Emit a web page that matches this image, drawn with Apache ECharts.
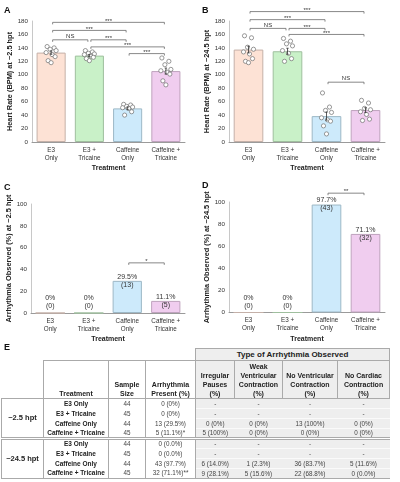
<!DOCTYPE html>
<html>
<head>
<meta charset="utf-8">
<script src="https://cdn.jsdelivr.net/npm/echarts@6/dist/echarts.min.js"></script>
<style>
  body { margin: 0; background: #fff; font-family: Arial, "Liberation Sans", sans-serif; }
  #chart { position: absolute; left: 0; top: 0; width: 400px; height: 482px; }
  #tbl { position: absolute; left: 1px; top: 348px; width: 388px; border-collapse: collapse; table-layout: fixed; color: #333; }
  #tbl td { padding: 0; text-align: center; line-height: 8px; font-size: 6.3px; white-space: nowrap; overflow: hidden; }
  #tbl tr.d { height: 10px; }
  #tbl td.hd { font-weight: bold; font-size: 7px; line-height: 9px; color: #222; vertical-align: bottom; border: 1px solid #aaa; white-space: pre-line; }
  #tbl td.top { font-weight: bold; font-size: 8px; line-height: 11px; color: #222; border: 1px solid #aaa; background: #eee; }
  #tbl td.grp { font-weight: bold; font-size: 7.5px; color: #222; border: 1px solid #aaa; }
  #tbl td.trt { font-weight: bold; font-size: 6.5px; color: #222; border-left: 1px solid #aaa; border-right: 1px solid #aaa; }
  #tbl td.val { border-right: 1px solid #aaa; color: #444; }
  #tbl td.gray { background: #eee; border-bottom: 1px solid #fafafa; color: #444; }
  #tbl tr.sep td { border-top: 3px double #aaa; }
  #tbl tr.last td { border-bottom: 1px solid #aaa; }
</style>
</head>
<body>
<div id="chart"></div>
<table id="tbl"></table>
<script>
// categories and colours
var categories = ['E3\nOnly', 'E3 +\nTricaine', 'Caffeine\nOnly', 'Caffeine +\nTricaine'];
var barColors = ['#fde2d5', '#c9f1c8', '#cdeafb', '#f0cdef'];
var barBorders = ['#c4b0a8', '#9fbf9e', '#9db8c6', '#bfa3be'];

// A: heart rate at ~2.5 hpt
var hrMean25 = [133, 128.5, 50, 105.5];
var hrSem25 = [2.5, 1.5, 2, 4.5];
var hrPoints25 = [
  [142, 140, 138, 136, 133, 130, 127, 121, 118],
  [136, 134, 132, 131, 130, 128, 126, 124, 121],
  [56, 55, 53, 52, 51, 50, 45, 40],
  [125, 120, 115, 108, 106, 104, 101, 91, 85]
];
// B: heart rate at ~24.5 hpt
var hrMean245 = [137.5, 135, 38.5, 47.5];
var hrSem245 = [5, 4.5, 6, 3.5];
var hrPoints245 = [
  [158, 155, 141, 138, 134, 131, 124, 120, 118],
  [154, 150, 146, 143, 136, 132, 124, 120],
  [73, 52, 47, 44, 36, 33, 31, 24, 12],
  [62, 58, 50, 48, 45, 41, 34, 32]
];
// C / D: arrhythmia observed
var arrPct25 = [0, 0, 29.5, 11.1];
var arrN25 = [0, 0, 13, 5];
var arrPct245 = [0, 0, 97.7, 71.1];
var arrN245 = [0, 0, 43, 32];

// significance brackets: [from, to, height, label]
var sigA = [[0, 3, 178, '***'], [0, 2, 166, '***'], [0, 1, 152, 'NS'], [1, 2, 152, '***'], [1, 3, 141.5, '***'], [2, 3, 131.5, '***']];
var sigB = [[0, 3, 194, '***'], [0, 2, 182, '***'], [0, 1, 169, 'NS'], [1, 2, 169, '***'], [1, 3, 160, '***'], [2, 3, 89, 'NS']];
var sigC = [[2, 3, 46, '*']];
var sigD = [[2, 3, 108, '**']];

var hrTicks = { min: 0, max: 180, interval: 20 };
var pctTicks = { min: 0, max: 100, interval: 20 };

// table E
var tableGroups = ['~2.5 hpt', '~24.5 hpt'];
var tableTreatments = ['E3 Only', 'E3 + Tricaine', 'Caffeine Only', 'Caffeine + Tricaine'];
var tableHeaders = ['Treatment', 'Sample\nSize', 'Arrhythmia\nPresent (%)', 'Irregular\nPauses\n(%)', 'Weak\nVentricular\nContraction\n(%)', 'No Ventricular\nContraction\n(%)', 'No Cardiac\nContraction\n(%)'];
var sampleSizes = [[44, 45, 44, 45], [44, 45, 44, 45]];
var arrhythmiaPresent = [['0 (0%)', '0 (0%)', '13 (29.5%)', '5 (11.1%)*'], ['0 (0.0%)', '0 (0.0%)', '43 (97.7%)', '32 (71.1%)**']];
var irregularPauses = [['-', '-', '0 (0%)', '5 (100%)'], ['-', '-', '6 (14.0%)', '9 (28.1%)']];
var weakVentricular = [['-', '-', '0 (0%)', '0 (0%)'], ['-', '-', '1 (2.3%)', '5 (15.6%)']];
var noVentricular = [['-', '-', '13 (100%)', '0 (0%)'], ['-', '-', '36 (83.7%)', '22 (68.8%)']];
var noCardiac = [['-', '-', '0 (0%)', '0 (0%)'], ['-', '-', '5 (11.6%)', '0 (0.0%)']];

// horizontal jitter for the dots, in px
var jitter = [-4, 3, -1, 5, -5, 1, 4, -3, 0, 2];

var FONT = 'Arial, "Liberation Sans", sans-serif';

function barSeries(idx, values) {
  return {
    type: 'bar', xAxisIndex: idx, yAxisIndex: idx, barWidth: '76%',
    data: values.map(function (v, i) {
      return { value: v, itemStyle: { color: barColors[i], borderColor: barBorders[i], borderWidth: 1 } };
    })
  };
}

function pctBarSeries(idx, pct, n) {
  var s = barSeries(idx, pct);
  s.data.forEach(function (d, i) {
    d.label = { show: true, position: 'top', distance: pct[i] > 0 ? -8 : 2 };
  });
  s.label = {
    show: true, fontSize: 7, lineHeight: 8, color: '#333', fontFamily: FONT,
    formatter: function (p) { return pct[p.dataIndex] + '%\n(' + n[p.dataIndex] + ')'; }
  };
  return s;
}

function pointSeries(idx, pts) {
  var data = [];
  pts.forEach(function (list, c) {
    list.forEach(function (v, i) { data.push([c, v, i]); });
  });
  return {
    type: 'custom', xAxisIndex: idx, yAxisIndex: idx, z: 5, data: data,
    renderItem: function (params, api) {
      var p = api.coord([api.value(0), api.value(1)]);
      return {
        type: 'circle',
        shape: { cx: p[0] + jitter[api.value(2) % jitter.length], cy: p[1], r: 2.1 },
        style: { fill: '#fff', stroke: '#6f6f6f', lineWidth: 0.7 }
      };
    }
  };
}

function errorSeries(idx, mean, sem) {
  return {
    type: 'custom', xAxisIndex: idx, yAxisIndex: idx, z: 6,
    data: mean.map(function (m, c) { return [c, m, sem[c]]; }),
    renderItem: function (params, api) {
      var c = api.value(0), m = api.value(1), s = api.value(2);
      var hi = api.coord([c, m + s]), lo = api.coord([c, m - s]);
      var st = { stroke: '#333', lineWidth: 0.8 };
      return {
        type: 'group', children: [
          { type: 'line', shape: { x1: hi[0], y1: hi[1], x2: lo[0], y2: lo[1] }, style: st },
          { type: 'line', shape: { x1: hi[0] - 1.2, y1: hi[1], x2: hi[0] + 1.2, y2: hi[1] }, style: st },
          { type: 'line', shape: { x1: lo[0] - 1.2, y1: lo[1], x2: lo[0] + 1.2, y2: lo[1] }, style: st }
        ]
      };
    }
  };
}

function sigSeries(idx, sig) {
  return {
    type: 'custom', xAxisIndex: idx, yAxisIndex: idx, z: 4,
    data: sig.map(function (s) { return [s[0], s[1], s[2]]; }),
    encode: { x: [0, 1], y: 2 },
    renderItem: function (params, api) {
      var a = api.coord([api.value(0), api.value(2)]);
      var b = api.coord([api.value(1), api.value(2)]);
      var x1 = a[0] + 1.5, x2 = b[0] - 1.5, y = a[1];
      var label = sig[params.dataIndex][3];
      return {
        type: 'group', children: [
          { type: 'polyline', shape: { points: [[x1, y + 2], [x1, y], [x2, y], [x2, y + 2]] },
            style: { stroke: '#6a6a6a', fill: null, lineWidth: 0.8 } },
          { type: 'text', style: { text: label, x: (x1 + x2) / 2, y: label === 'NS' ? y - 0.5 : y + 1.5,
            align: 'center', verticalAlign: 'bottom', fontSize: 6, fill: '#333', fontFamily: FONT } }
        ]
      };
    }
  };
}

function xAxis(idx) {
  return {
    type: 'category', gridIndex: idx, data: categories,
    axisLine: { lineStyle: { color: '#9a9a9a', width: 1 } },
    axisTick: { show: false },
    axisLabel: { interval: 0, fontSize: 6.3, lineHeight: 8, color: '#333', margin: 4, fontFamily: FONT },
    name: 'Treatment', nameLocation: 'middle', nameGap: 23,
    nameTextStyle: { fontWeight: 'bold', fontSize: 7, color: '#222', fontFamily: FONT }
  };
}

function yAxis(idx, ticks, name, gap) {
  return {
    type: 'value', gridIndex: idx, min: ticks.min, max: ticks.max, interval: ticks.interval,
    axisLine: { show: true, lineStyle: { color: '#c8c8c8', width: 1 } },
    axisTick: { show: false },
    splitLine: { show: false },
    axisLabel: { fontSize: 6.2, color: '#333', margin: 4, fontFamily: FONT },
    name: name, nameLocation: 'middle', nameGap: gap, nameRotate: 90,
    nameTextStyle: { fontWeight: 'bold', fontSize: 7.4, color: '#222', fontFamily: FONT }
  };
}

function panelLetter(t, x, y) {
  return { type: 'text', left: x, top: y, style: { text: t, fontSize: 9, fontWeight: 'bold', fill: '#111', fontFamily: FONT } };
}

var chart = echarts.init(document.getElementById('chart'));
var option = {
  animation: false,
  grid: [
    { left: 32, top: 21, width: 153, height: 121 },
    { left: 229, top: 21, width: 156, height: 121 },
    { left: 31, top: 204, width: 154, height: 109 },
    { left: 229, top: 202, width: 156, height: 110.5 }
  ],
  xAxis: [xAxis(0), xAxis(1), xAxis(2), xAxis(3)],
  yAxis: [
    yAxis(0, hrTicks, 'Heart Rate (BPM) at ~2.5 hpt', 18),
    yAxis(1, hrTicks, 'Heart Rate (BPM) at ~24.5 hpt', 15),
    yAxis(2, pctTicks, 'Arrhythmia Observed (%) at ~2.5 hpt', 17),
    yAxis(3, pctTicks, 'Arrhythmia Observed (%) at ~24.5 hpt', 15)
  ],
  graphic: [
    panelLetter('A', 4, 6), panelLetter('B', 202, 6),
    panelLetter('C', 4, 183), panelLetter('D', 202, 181),
    panelLetter('E', 4, 343)
  ],
  series: [
    barSeries(0, hrMean25), pointSeries(0, hrPoints25), errorSeries(0, hrMean25, hrSem25), sigSeries(0, sigA),
    barSeries(1, hrMean245), pointSeries(1, hrPoints245), errorSeries(1, hrMean245, hrSem245), sigSeries(1, sigB),
    pctBarSeries(2, arrPct25, arrN25), sigSeries(2, sigC),
    pctBarSeries(3, arrPct245, arrN245), sigSeries(3, sigD)
  ]
};
chart.setOption(option);

// table E
var colWidths = [42, 65, 37, 50, 39, 48, 55, 52];
var html = '<colgroup>' + colWidths.map(function (w) { return '<col style="width:' + w + 'px">'; }).join('') + '</colgroup>';
html += '<tr><td colspan="4" style="border:none"></td><td colspan="4" class="top">Type of Arrhythmia Observed</td></tr>';
html += '<tr style="height:38px"><td style="border:none"></td>' + tableHeaders.map(function (h, i) {
  return '<td class="hd"' + (i >= 3 ? ' style="background:#eee"' : '') + '>' + h + '</td>';
}).join('') + '</tr>';
tableGroups.forEach(function (g, gi) {
  tableTreatments.forEach(function (t, ri) {
    var cls = ['d'];
    if (gi > 0 && ri === 0) cls.push('sep');
    if (ri === tableTreatments.length - 1) cls.push('last');
    html += '<tr class="' + cls.join(' ') + '">';
    if (ri === 0) html += '<td rowspan="4" class="grp">' + g + '</td>';
    html += '<td class="trt">' + t + '</td>';
    html += '<td class="val">' + sampleSizes[gi][ri] + '</td>';
    html += '<td class="val">' + arrhythmiaPresent[gi][ri] + '</td>';
    [irregularPauses, weakVentricular, noVentricular, noCardiac].forEach(function (col) {
      html += '<td class="gray">' + col[gi][ri] + '</td>';
    });
    html += '</tr>';
  });
});
document.getElementById('tbl').innerHTML = html;
</script>
</body>
</html>
